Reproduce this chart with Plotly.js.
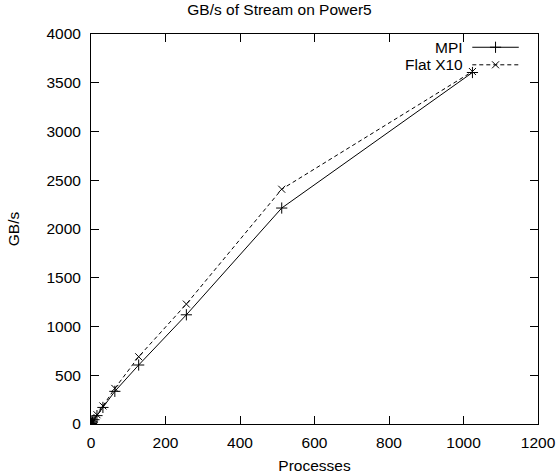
<!DOCTYPE html>
<html>
<head>
<meta charset="utf-8">
<script src="https://cdn.plot.ly/plotly-3.0.1.min.js"></script>
<style>html,body{margin:0;padding:0;background:#fff;}</style>
</head>
<body>
<div id="chart" style="width:559px;height:474px;"></div>
<script>
const processes = [1, 2, 4, 8, 16, 32, 64, 128, 256, 512, 1024];
const mpiGBs = [5, 11, 22, 44, 86, 170, 335, 605, 1120, 2215, 3605];
const x10GBs = [6, 12, 24, 48, 95, 185, 365, 690, 1230, 2408, 3615];
const seriesNames = ["MPI", "Flat X10"];

const font = {family: "Liberation Sans, Arial, sans-serif", size: 15.5, color: "#000"};

const mpiMarker = {symbol: "cross-thin-open", size: 8, color: "#000", line: {color: "#000", width: 1}};
const x10Marker = {symbol: "x-thin-open", size: 7, color: "#000", line: {color: "#000", width: 1}};

const traces = [
  {x: processes, y: mpiGBs, name: seriesNames[0], type: "scatter", mode: "lines+markers",
   line: {color: "#000", width: 1}, marker: mpiMarker},
  {x: processes, y: x10GBs, name: seriesNames[1], type: "scatter", mode: "lines+markers",
   line: {color: "#000", width: 1, dash: "4px,3px"}, marker: x10Marker}
];

const axisCommon = {showline: true, linecolor: "#000", linewidth: 1, mirror: "allticks",
  ticks: "inside", ticklen: 8, tickcolor: "#000", tickwidth: 1, showgrid: false, zeroline: false,
  tickfont: font};

// legend (gnuplot-style: text right-aligned, sample on the right)
const legY = [0.966, 0.921];
const annotations = seriesNames.map((n, i) => ({xref: "paper", yref: "paper", x: 0.836, y: legY[i],
  text: n, showarrow: false, xanchor: "right", yanchor: "middle", font: font}));
const shapes = [
  {type: "line", xref: "paper", yref: "paper", x0: 0.853, x1: 0.957, y0: legY[0], y1: legY[0], line: {color: "#000", width: 1}},
  {type: "line", xref: "paper", yref: "paper", x0: 0.853, x1: 0.957, y0: legY[1], y1: legY[1], line: {color: "#000", width: 1, dash: "4px,3px"}}
];

const layout = {
  width: 559, height: 474,
  margin: {l: 91, r: 21, t: 34, b: 50},
  paper_bgcolor: "#fff", plot_bgcolor: "#fff",
  font: font,
  showlegend: false,
  title: {text: "GB/s of Stream on Power5", font: font, x: 0.5, xanchor: "center", y: 0.979, yanchor: "middle"},
  xaxis: Object.assign({}, axisCommon, {range: [0, 1200], dtick: 200, ticklabelstandoff: 4,
    title: {text: "Processes", font: font, standoff: 10}}),
  yaxis: Object.assign({}, axisCommon, {range: [0, 4000], dtick: 500, ticklabelstandoff: 6,
    title: {text: "GB/s", font: font, standoff: 22}}),
  annotations: annotations,
  shapes: shapes
};

// legend sample markers via an overlay trace on hidden unit axes
traces.push({x: [0.905], y: [legY[0]], xaxis: "x2", yaxis: "y2", mode: "markers", showlegend: false, hoverinfo: "skip",
  marker: mpiMarker});
traces.push({x: [0.905], y: [legY[1]], xaxis: "x2", yaxis: "y2", mode: "markers", showlegend: false, hoverinfo: "skip",
  marker: x10Marker});
layout.xaxis2 = {overlaying: "x", range: [0, 1], visible: false, fixedrange: true};
layout.yaxis2 = {overlaying: "y", range: [0, 1], visible: false, fixedrange: true};

Plotly.newPlot("chart", traces, layout, {displayModeBar: false, staticPlot: true});
</script>
</body>
</html>
